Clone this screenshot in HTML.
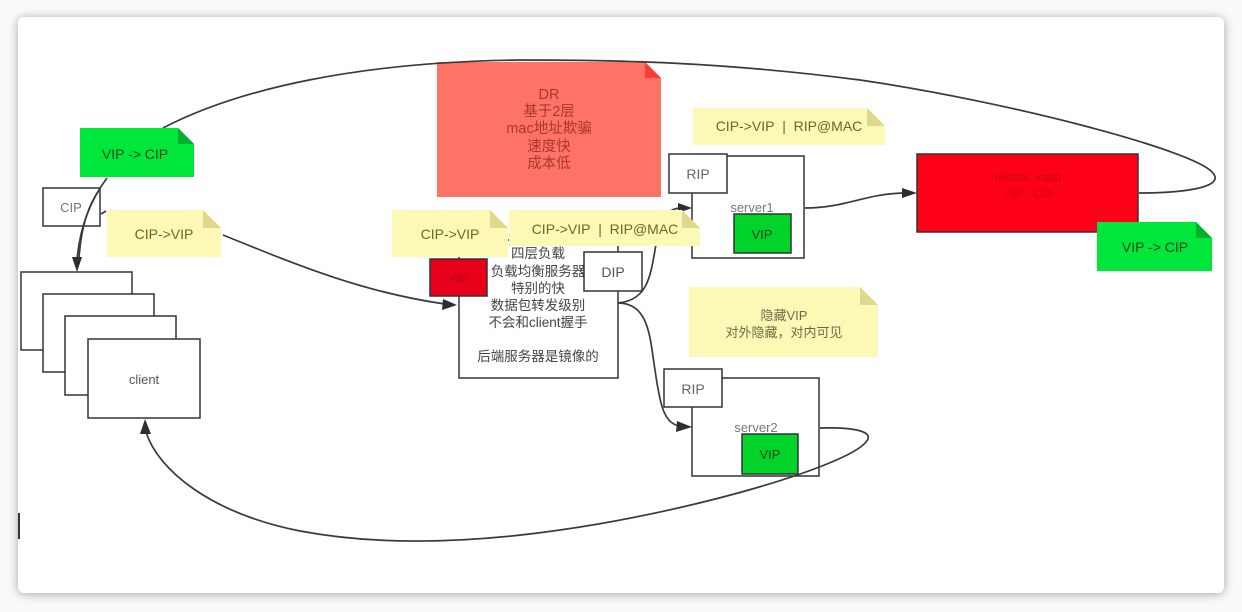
<!DOCTYPE html>
<html>
<head>
<meta charset="utf-8">
<style>
  html,body{margin:0;padding:0;}
  body{width:1242px;height:612px;background:#fafafa;position:relative;overflow:hidden;
       font-family:"Liberation Sans","Noto Sans CJK SC",sans-serif;}
  .card{position:absolute;left:18px;top:17px;width:1206px;height:576px;background:#fff;
        border-radius:6px;box-shadow:0 1px 10px rgba(0,0,0,0.35);}
  svg{position:absolute;left:0;top:0;}
  text{font-family:"Liberation Sans","Noto Sans CJK SC",sans-serif;}
</style>
</head>
<body>
<div class="card"></div>
<svg width="1242" height="612" viewBox="0 0 1242 612" xmlns="http://www.w3.org/2000/svg">
  <!-- left edge mark -->
  <rect x="18" y="513" width="2" height="26" fill="#333"/>

  <!-- client stack -->
  <g fill="#fff" stroke="#333" stroke-width="1.5">
    <rect x="21" y="272" width="111" height="78"/>
    <rect x="43" y="294" width="111" height="78"/>
    <rect x="65" y="316" width="111" height="79"/>
    <rect x="88" y="339" width="112" height="79"/>
  </g>
  <text x="144" y="384" font-size="13" fill="#555" text-anchor="middle">client</text>

  <!-- CIP box -->
  <rect x="43" y="188" width="57" height="38" fill="#fff" stroke="#333" stroke-width="1.5"/>
  <text x="71" y="212" font-size="13" fill="#777" text-anchor="middle">CIP</text>

  <!-- DR note -->
  <polygon points="437,62 645,62 661,78 661,197 437,197" fill="#ff7266"/>
  <polygon points="645,62 661,78 645,78" fill="#ff3b33"/>
  <g font-size="14.5" fill="#a8382f" text-anchor="middle">
    <text x="549" y="99">DR</text>
    <text x="549" y="116">基于2层</text>
    <text x="549" y="133">mac地址欺骗</text>
    <text x="549" y="151">速度快</text>
    <text x="549" y="168">成本低</text>
  </g>

  <!-- LB box -->
  <rect x="459" y="240" width="159" height="138" fill="#fff" stroke="#333" stroke-width="1.5"/>
  <g font-size="13.5" fill="#444" text-anchor="middle">
    <text x="538" y="258">四层负载</text>
    <text x="538" y="276">负载均衡服务器</text>
    <text x="538" y="293">特别的快</text>
    <text x="538" y="310">数据包转发级别</text>
    <text x="538" y="327">不会和client握手</text>
    <text x="538" y="361">后端服务器是镜像的</text>
  </g>
  <!-- red VIP box -->
  <rect x="430" y="259" width="57" height="37" fill="#e8001a" stroke="#333" stroke-width="1.5"/>
  <text x="458" y="282" font-size="11" fill="#b00010" text-anchor="middle">VIP</text>
  <!-- DIP box -->
  <rect x="584" y="252" width="58" height="39" fill="#fff" stroke="#333" stroke-width="1.5"/>
  <text x="613" y="277" font-size="14" fill="#555" text-anchor="middle">DIP</text>

  <!-- server1 -->
  <rect x="692" y="156" width="112" height="102" fill="#fff" stroke="#333" stroke-width="1.5"/>
  <rect x="669" y="154" width="58" height="39" fill="#fff" stroke="#333" stroke-width="1.5"/>
  <text x="698" y="179" font-size="14" fill="#666" text-anchor="middle">RIP</text>
  <text x="752" y="212" font-size="13" fill="#777" text-anchor="middle">server1</text>
  <rect x="734" y="214" width="57" height="39" fill="#00d42a" stroke="#333" stroke-width="1.5"/>
  <text x="762" y="239" font-size="13" fill="#1c4a1c" text-anchor="middle">VIP</text>

  <!-- server2 -->
  <rect x="692" y="378" width="127" height="98" fill="#fff" stroke="#333" stroke-width="1.5"/>
  <rect x="664" y="369" width="58" height="38" fill="#fff" stroke="#333" stroke-width="1.5"/>
  <text x="693" y="394" font-size="14" fill="#666" text-anchor="middle">RIP</text>
  <text x="756" y="432" font-size="13" fill="#777" text-anchor="middle">server2</text>
  <rect x="742" y="434" width="56" height="40" fill="#00d42a" stroke="#333" stroke-width="1.5"/>
  <text x="770" y="459" font-size="13" fill="#1c4a1c" text-anchor="middle">VIP</text>

  <!-- netstat box -->
  <rect x="917" y="154" width="221" height="78" fill="#ff0019" stroke="#333" stroke-width="1.5"/>
  <g font-size="12" fill="#c8000e" text-anchor="middle">
    <text x="1028" y="181">netstat -natp</text>
    <text x="1028" y="198">VIP - CIP</text>
  </g>

  <!-- connectors -->
  <g fill="none" stroke="#3a3a3a" stroke-width="1.7">
    <path d="M1139,193 C1180,193 1228,188 1212,172 C1192,150 1010,102 860,80 C720,62 620,60 520,60 C360,62 240,88 163,128"/>
    <path d="M107,178 C92,198 80,225 77,260"/>
    <path d="M100,189 C88,205 81,228 79,258"/>
    <path d="M101,214 L106,211"/>
    <path d="M223,235 C290,262 360,292 445,304"/>
    <path d="M805,208 C845,208 865,194 903,193"/>
    <path d="M618,303 C646,300 650,280 655,250 C660,222 664,208 682,208"/>
    <path d="M618,303 C650,303 650,340 655,370 C660,405 664,424 680,426"/>
    <path d="M820,428 C852,427 876,431 866,442 C848,465 700,510 560,530 C470,543 380,546 300,531 C210,513 158,470 146,432"/>
  </g>
  <g fill="#2e2e2e">
    <polygon points="77,272 72,257 82,257"/>
    <polygon points="457,305 443,299 442,310"/>
    <polygon points="917,193 902,188 902,198"/>
    <polygon points="692,427 677,421 676,432"/>
    <polygon points="692,208 678,203 678,213"/>
    <polygon points="145,419 140,434 151,434"/>
  </g>

  <!-- yellow notes -->
  <polygon points="107,210 203,210 221,228 221,257 107,257" fill="#fcf9b6"/>
  <polygon points="203,210 221,228 203,228" fill="#e0d88c"/>
  <text x="164" y="239" font-size="14" fill="#6b6630" text-anchor="middle">CIP-&gt;VIP</text>

  <polygon points="392,210 490,210 508,228 508,257 392,257" fill="#fcf9b6"/>
  <polygon points="490,210 508,228 490,228" fill="#e0d88c"/>
  <text x="450" y="239" font-size="14" fill="#6b6630" text-anchor="middle">CIP-&gt;VIP</text>

  <polygon points="509,210 682,210 700,228 700,246 509,246" fill="#fcf9b6"/>
  <polygon points="682,210 700,228 682,228" fill="#e0d88c"/>
  <text x="605" y="234" font-size="14" fill="#6b6630" text-anchor="middle">CIP-&gt;VIP&#160;&#160;|&#160;&#160;RIP@MAC</text>

  <polygon points="693,108 867,108 885,126 885,145 693,145" fill="#fcf9b6"/>
  <polygon points="867,108 885,126 867,126" fill="#e0d88c"/>
  <text x="789" y="131" font-size="14" fill="#6b6630" text-anchor="middle">CIP-&gt;VIP&#160;&#160;|&#160;&#160;RIP@MAC</text>

  <polygon points="689,287 860,287 878,305 878,357 689,357" fill="#fcf9b6"/>
  <polygon points="860,287 878,305 860,305" fill="#e0d88c"/>
  <g font-size="13" fill="#6e6a45" text-anchor="middle">
    <text x="784" y="320">隐藏VIP</text>
    <text x="784" y="337">对外隐藏，对内可见</text>
  </g>

  <!-- green notes -->
  <polygon points="80,128 178,128 194,144 194,177 80,177" fill="#00e63a"/>
  <polygon points="178,128 194,144 178,144" fill="#00b02c"/>
  <text x="135" y="159" font-size="14" fill="#1b4a1b" text-anchor="middle">VIP -&gt; CIP</text>

  <polygon points="1097,222 1196,222 1212,238 1212,271 1097,271" fill="#00e63a"/>
  <polygon points="1196,222 1212,238 1196,238" fill="#00b02c"/>
  <text x="1155" y="252" font-size="14" fill="#1b4a1b" text-anchor="middle">VIP -&gt; CIP</text>
</svg>
</body>
</html>
